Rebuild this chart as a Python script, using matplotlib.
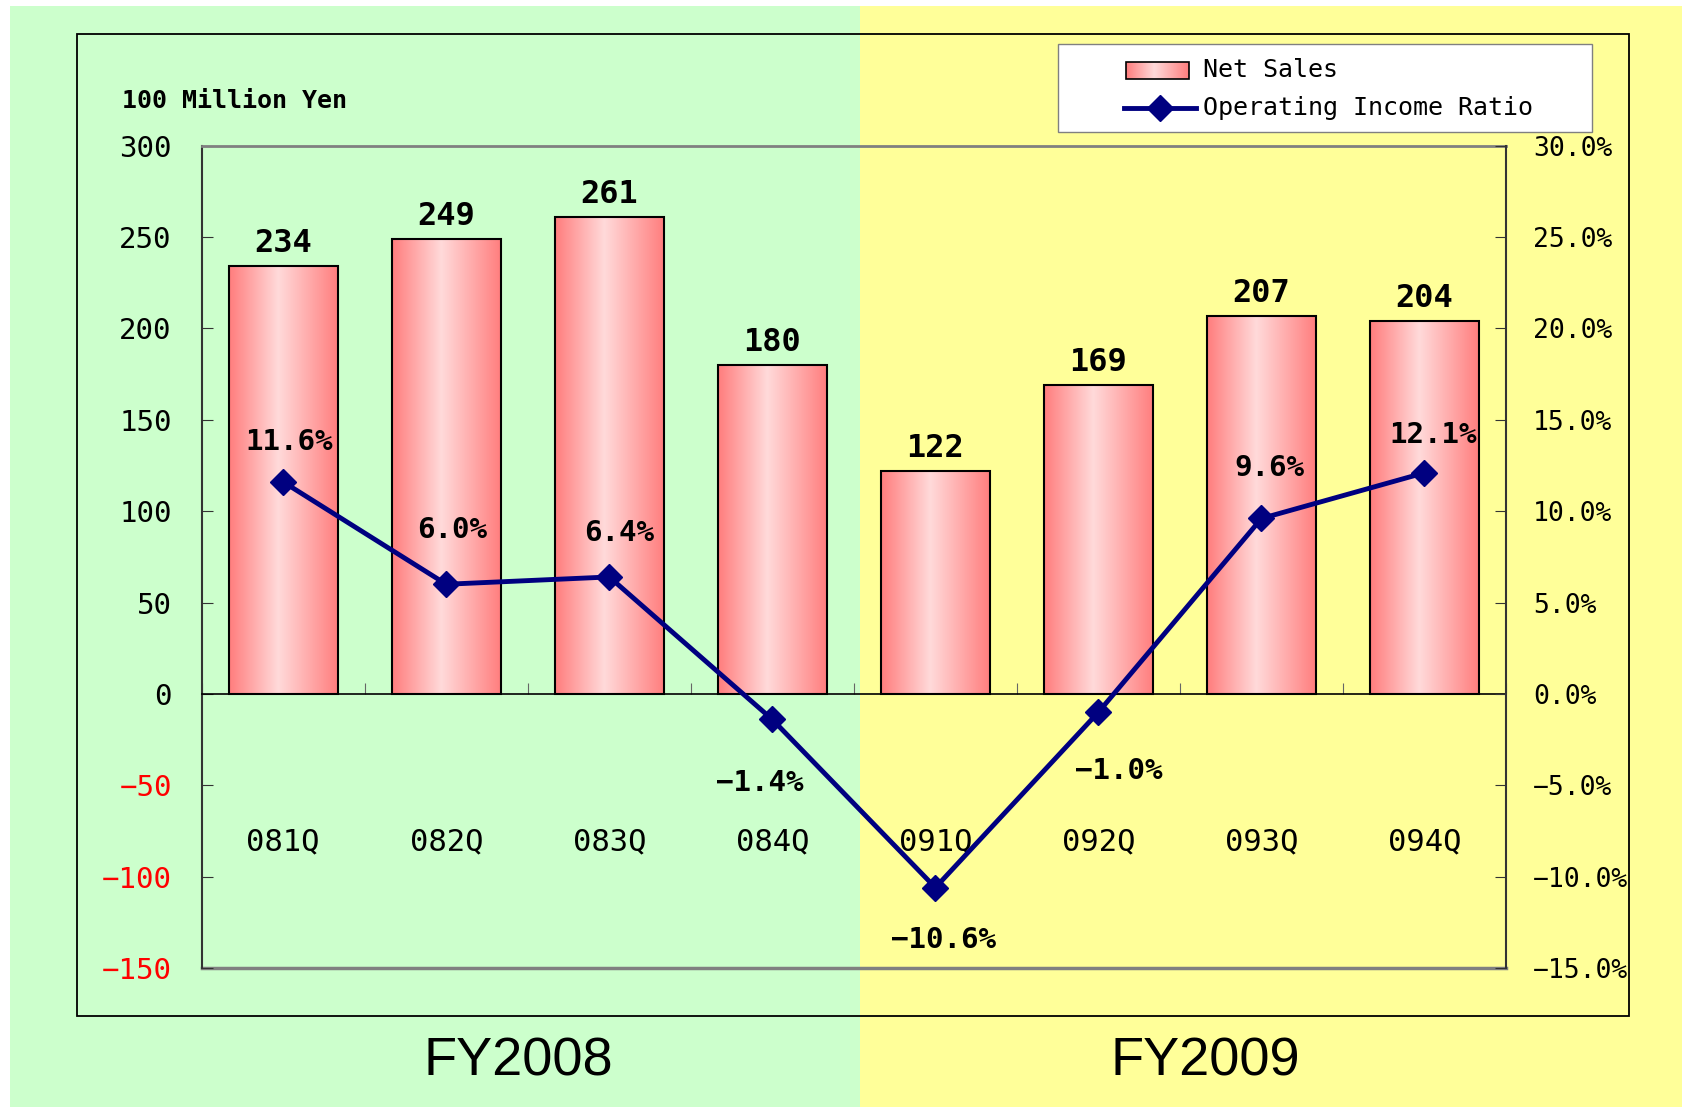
import numpy as np
import matplotlib.pyplot as plt
from matplotlib.patches import Rectangle

# monospaced gothic look, close to the original MS Gothic labels
plt.rcParams['font.family'] = ['DejaVu Sans Mono', 'Noto Sans CJK JP']

# Data
quarters = ['081Q', '082Q', '083Q', '084Q', '091Q', '092Q', '093Q', '094Q']
net_sales = [234, 249, 261, 180, 122, 169, 207, 204]
op_ratio = [11.6, 6.0, 6.4, -1.4, -10.6, -1.0, 9.6, 12.1]
fiscal_years = ['FY2008', 'FY2009']
left_ticks = [300, 250, 200, 150, 100, 50, 0, -50, -100, -150]
right_ticks = [30, 25, 20, 15, 10, 5, 0, -5, -10, -15]

# label offsets (points) for the ratio labels
ratio_offsets = [(4, 29), (4, 39), (7, 32), (-9, -46), (6, -38), (15, -42), (6, 36), (6, 27)]

W, H = 1683, 1107
navy = '#000080'

# horizontal pink gradient used for bars
pos = np.linspace(0, 1, 200)
gb = np.interp(pos, [0, 0.45, 1], [125, 218, 125]) / 255
grad = np.stack([np.ones_like(pos), gb, gb], axis=-1)[None, :, :]

fig = plt.figure(figsize=(W / 100, H / 100), dpi=100)

# background in pixel coords
bg = fig.add_axes([0, 0, 1, 1], zorder=-2)
bg.add_patch(Rectangle((10, 6), 850, H - 6, color='#CCFFCC', lw=0))
bg.add_patch(Rectangle((860, 6), W - 860, H - 6, color='#FFFF99', lw=0))
bg.add_patch(Rectangle((77.5, 33.5), 1551.5, 982.5, fill=False, ec='black', lw=1.3))
bg.text(122, 108, '100 Million Yen', fontsize=18, fontweight='bold', va='baseline')
fy_x = [518, 1205]
for fx, fy in zip(fy_x, fiscal_years):
    bg.text(fx, 1061, fy, fontsize=39, family='Liberation Sans', ha='center', va='center')
bg.set_xlim(0, W)
bg.set_ylim(H, 0)
bg.axis('off')

# main axes
ax = fig.add_axes([201.7 / W, 1 - 968 / H, (1506 - 201.7) / W, (968 - 145.7) / H])
ax.set_facecolor('none')
x = np.arange(len(quarters))
bar_w = 0.67
for xi, v in zip(x, net_sales):
    ax.imshow(grad, extent=(xi - bar_w / 2, xi + bar_w / 2, 0, v), aspect='auto',
              interpolation='bicubic', zorder=2)
ax.bar(x, net_sales, width=bar_w, fill=False, edgecolor='black', lw=1.5, zorder=3)
for xi, v in zip(x, net_sales):
    ax.annotate(str(v), (xi, v), xytext=(0, 10), textcoords='offset points',
                ha='center', va='baseline', fontsize=23, fontweight='bold')
for xi, q in zip(x, quarters):
    ax.text(xi, -81, q, ha='center', va='center', fontsize=22)

ax.set_xlim(-0.5, len(quarters) - 0.5)
ax.set_ylim(-150, 300)
ax.set_yticks(left_ticks)
ax.set_yticklabels([str(t).replace('-', '\u2212') for t in left_ticks])
for lbl, t in zip(ax.get_yticklabels(), left_ticks):
    if t < 0:
        lbl.set_color('red')
ax.set_xticks(np.arange(-0.5, len(quarters), 1))
ax.tick_params(axis='x', direction='in', length=8, labelbottom=False, color='#666666')
ax.tick_params(axis='y', direction='in', length=8, pad=21.5, labelsize=21, color='#333333')
ax.spines['bottom'].set_position(('data', 0))
ax.spines['bottom'].set_color('black')
ax.spines['bottom'].set_linewidth(1.2)
ax.spines['left'].set_color('#333333')
ax.spines['left'].set_linewidth(1.5)
ax.spines['right'].set_visible(False)
ax.spines['top'].set_color('#808080')
ax.spines['top'].set_linewidth(2)
ax.axhline(-150, color='#808080', lw=2.5, clip_on=False, zorder=1)

# ratio line on right axis
ax2 = ax.twinx()
ax2.plot(x, op_ratio, color=navy, lw=3.5, marker='D', ms=13, zorder=4)
for xi, r, off in zip(x, op_ratio, ratio_offsets):
    ax2.annotate(f'{r:.1f}%'.replace('-', '\u2212'), (xi, r), xytext=off,
                 textcoords='offset points', ha='center', va='center',
                 fontsize=21, fontweight='bold', zorder=5)
ax2.set_ylim(-15, 30)
ax2.set_yticks(right_ticks)
ax2.set_yticklabels([f'{t:.1f}%'.replace('-', '\u2212') for t in right_ticks])
ax2.tick_params(axis='y', direction='in', length=8, pad=19.5, labelsize=19, color='#333333')
for s in ['top', 'bottom', 'left']:
    ax2.spines[s].set_visible(False)
ax2.spines['right'].set_color('#333333')
ax2.spines['right'].set_linewidth(1.5)

# legend drawn by hand
lg = fig.add_axes([0, 0, 1, 1], zorder=10)
lg.set_facecolor('none')
lg.add_patch(Rectangle((1058, 44), 534, 88, fc='white', ec='#808080', lw=1))
lg.imshow(grad, extent=(1126, 1189, 79, 62), aspect='auto', interpolation='bicubic', zorder=2)
lg.add_patch(Rectangle((1126, 62), 63, 17, fill=False, ec='black', lw=1.2, zorder=3))
lg.plot([1124, 1196], [108, 108], color=navy, lw=3.5)
lg.plot([1160], [108], color=navy, marker='D', ms=13)
lg.text(1203, 70, 'Net Sales', fontsize=18, va='center')
lg.text(1203, 108, 'Operating Income Ratio', fontsize=18, va='center')
lg.set_xlim(0, W)
lg.set_ylim(H, 0)
lg.axis('off')

fig.savefig('out.png', dpi=100)
